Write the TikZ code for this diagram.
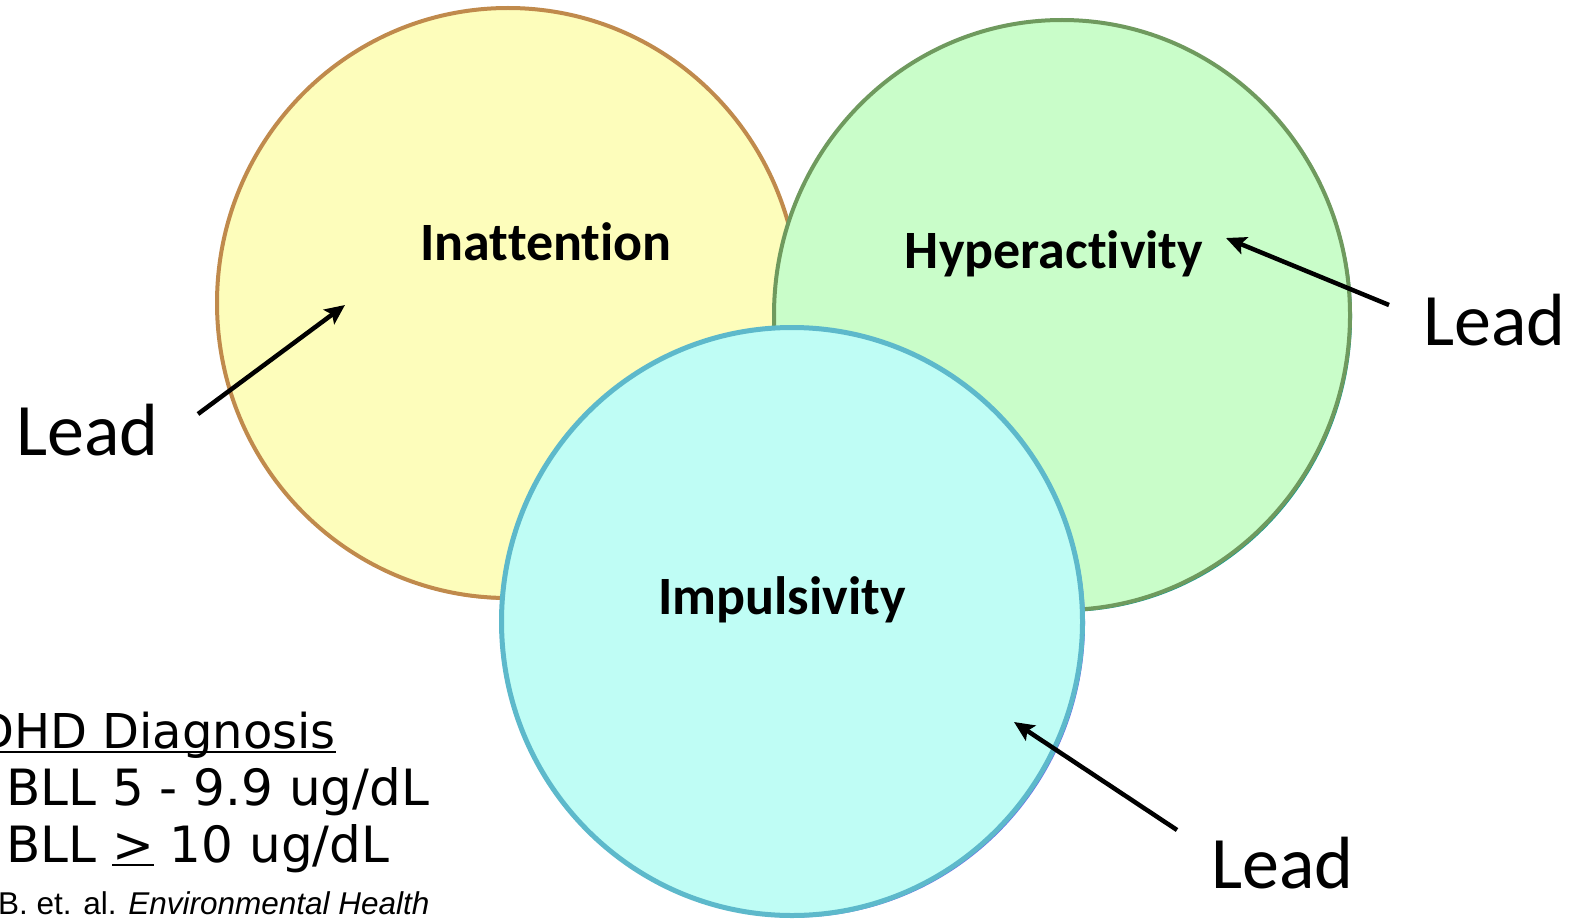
\documentclass[tikz,border=0pt]{standalone}
\usepackage{fontspec}
\setmainfont{Carlito}[Ligatures=NoCommon]
\newfontfamily\verd{DejaVu Sans}
\newfontfamily\arialf{Liberation Sans}
\usetikzlibrary{arrows.meta,shapes.geometric}
\definecolor{yfill}{HTML}{FDFDBB}
\definecolor{ydraw}{HTML}{C08A4C}
\definecolor{gfill}{HTML}{C9FDC9}
\definecolor{gdraw}{HTML}{6F9A5E}
\definecolor{gshadow}{HTML}{1E9C8E}
\definecolor{cfill}{HTML}{BFFDF5}
\definecolor{cdraw}{HTML}{5DB9CB}
\definecolor{cshadow}{HTML}{6A70E6}
\newcommand\myul[1]{\setbox0\hbox{#1}\rlap{\rule[-4pt]{\wd0}{2.5pt}}\copy0\relax}
\tikzset{
  venn/.style={ellipse, inner sep=0pt, line width=4pt},
  lbl/.style={font=\bfseries\fontsize{54}{64}\selectfont, inner sep=0pt, anchor=base},
  leadtxt/.style={font=\fontsize{74}{88}\selectfont, inner sep=0pt, anchor=base west},
  arr/.style={line width=4.5pt, -{Stealth[length=20pt,width=18pt,inset=4pt]}},
  bl/.style={font=\verd\fontsize{50}{60}\selectfont, inner sep=0pt},
}
\begin{document}
\begin{tikzpicture}[x=1pt,y=-1pt]
\useasboundingbox (0,0) rectangle (1570,923);
% yellow
\node[venn, minimum width=582pt, minimum height=590pt, fill=ydraw!70] at (510,305) {};
\node[venn, minimum width=582pt, minimum height=590pt, fill=yfill, draw=ydraw] (inat) at (508,303) {};
% green
\node[venn, minimum width=576pt, minimum height=590pt, fill=gshadow] at (1064,317) {};
\node[venn, minimum width=576pt, minimum height=590pt, fill=gfill, draw=gdraw] (hyp) at (1062,315) {};
% cyan
\node[venn, minimum width=581pt, minimum height=588pt, fill=cshadow] at (794.5,623.5) {};
\node[venn, minimum width=581pt, minimum height=588pt, fill=cfill, draw=cdraw, line width=5pt] (imp) at (792,621.5) {};
% labels
\node[lbl] (tin) at (546,260) {Inattention};
\node[lbl] (thy) at (1054,268) {Hyperactivity};
\node[lbl] (tim) at (782,614) {Impulsivity};
% lead labels
\node[leadtxt] (l1) at (16,455) {Lead};
\node[leadtxt] (l2) at (1423,345) {Lead};
\node[leadtxt] (l3) at (1211,888) {Lead};
% arrows
\coordinate (a1s) at (198,414); \coordinate (a1e) at (345,305);
\coordinate (a2s) at (1389,305); \coordinate (a2e) at (1226,238);
\coordinate (a3s) at (1177,830); \coordinate (a3e) at (1014,722);
\draw[arr] (a1s) -- (a1e);
\draw[arr] (a2s) -- (a2e);
\draw[arr] (a3s) -- (a3e);
% bottom-left text
\node[bl, font=\verd\fontsize{48}{58}\selectfont, anchor=base east] (d1) at (336,748) {ADHD Diagnosis};
\draw[line width=2.5pt] ([yshift=-4pt]d1.base west) -- ([yshift=-4pt]d1.base east);
\node[bl, anchor=base west] (d2) at (6,805) {BLL 5 - 9.9 ug/dL};
\node[bl, anchor=base west] (d3) at (6,862) {BLL \myul{>} 10 ug/dL};
\node[font=\arialf\fontsize{31.5}{36}\selectfont, inner sep=0pt, anchor=base west] (cit) at (-2,914) {B. et. al. \textit{Environmental Health}};
\end{tikzpicture}
\end{document}
